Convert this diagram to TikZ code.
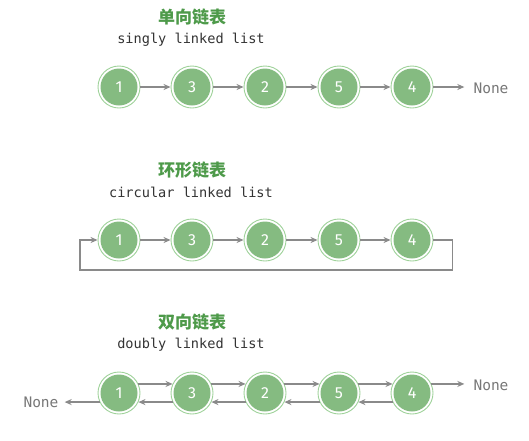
\documentclass[tikz,border=0pt]{standalone}
\usepackage{fontspec}
\setmonofont{DejaVu Sans Mono}
\setsansfont{Fira Sans}
\newfontfamily\cjkfont{Noto Sans CJK SC}
\usetikzlibrary{arrows.meta,positioning}
\definecolor{nodegreen}{HTML}{85BB81}
\definecolor{ringgreen}{HTML}{9FD29A}
\definecolor{titlegreen}{HTML}{4E9A4A}
\definecolor{linkgray}{HTML}{8A8A8A}
\definecolor{nonegray}{HTML}{777777}

\begin{document}
\begin{tikzpicture}[x=1pt,y=-1pt,
  listnode/.style={circle,draw=ringgreen,line width=0.9pt,fill=white,minimum size=42pt,inner sep=0pt,
    path picture={\fill[nodegreen] (path picture bounding box.center) circle (18.5pt);},
    text=white,font=\sffamily\fontsize{16}{16}\selectfont},
  title/.style={font=\cjkfont\bfseries\fontsize{17}{17}\selectfont,text=titlegreen},
  subtitle/.style={font=\ttfamily\fontsize{13.6}{13.6}\selectfont,text=black!80},
  none/.style={font=\ttfamily\fontsize{14.5}{14.5}\selectfont,text=nonegray,inner sep=0pt},
  link/.style={-{Stealth[length=7pt,width=6pt]},line width=1.3pt,draw=linkgray}
]
\useasboundingbox (0,0) rectangle (529,440);

% Einfach verkettete Liste
\node[title] (t1) at (192,17) {单向链表};
\node[subtitle] (s1) at (191,40) {singly linked list};
\node[listnode] (a1) at (119,87) {1};
\node[listnode] (a3) at (192,87) {3};
\node[listnode] (a2) at (265,87) {2};
\node[listnode] (a5) at (339,87) {5};
\node[listnode] (a4) at (412,87) {4};
\node[none] (anone) at (491,88) {None};

\draw[link] (a1) -- (a3);
\draw[link] (a3) -- (a2);
\draw[link] (a2) -- (a5);
\draw[link] (a5) -- (a4);
\draw[link,shorten >=9pt] (a4) -- (anone.west |- a4);

% Ringliste
\node[title] (t2) at (192,170) {环形链表};
\node[subtitle] (s2) at (191,192) {circular linked list};
\node[listnode] (b1) at (119,240) {1};
\node[listnode] (b3) at (192,240) {3};
\node[listnode] (b2) at (265,240) {2};
\node[listnode] (b5) at (339,240) {5};
\node[listnode] (b4) at (412,240) {4};
\coordinate (loopleft) at (80,270);

\draw[link] (b1) -- (b3);
\draw[link] (b3) -- (b2);
\draw[link] (b2) -- (b5);
\draw[link] (b5) -- (b4);
\draw[link] (b4.east) -- ++(19,0) |- (loopleft) |- (b1.west);

% Doppelt verkettete Liste
\node[title] (t3) at (192,322) {双向链表};
\node[subtitle] (s3) at (191,345) {doubly linked list};
\node[listnode] (c1) at (119,393) {1};
\node[listnode] (c3) at (192,393) {3};
\node[listnode] (c2) at (265,393) {2};
\node[listnode] (c5) at (339,393) {5};
\node[listnode] (c4) at (412,393) {4};
\node[none] (cnoneR) at (491,385) {None};
\node[none] (cnoneL) at (41,402) {None};

\draw[link] (c1.25) -- (c3.155);
\draw[link] (c3.25) -- (c2.155);
\draw[link] (c2.25) -- (c5.155);
\draw[link] (c5.25) -- (c4.155);
\draw[link,shorten >=9pt] (c4.25) -- (cnoneR.west |- c4.25);
\draw[link] (c4.-155) -- (c5.-25);
\draw[link] (c5.-155) -- (c2.-25);
\draw[link] (c2.-155) -- (c3.-25);
\draw[link] (c3.-155) -- (c1.-25);
\draw[link,shorten >=6pt] (c1.-155) -- (cnoneL.east |- c1.-155);

\end{tikzpicture}
\end{document}
